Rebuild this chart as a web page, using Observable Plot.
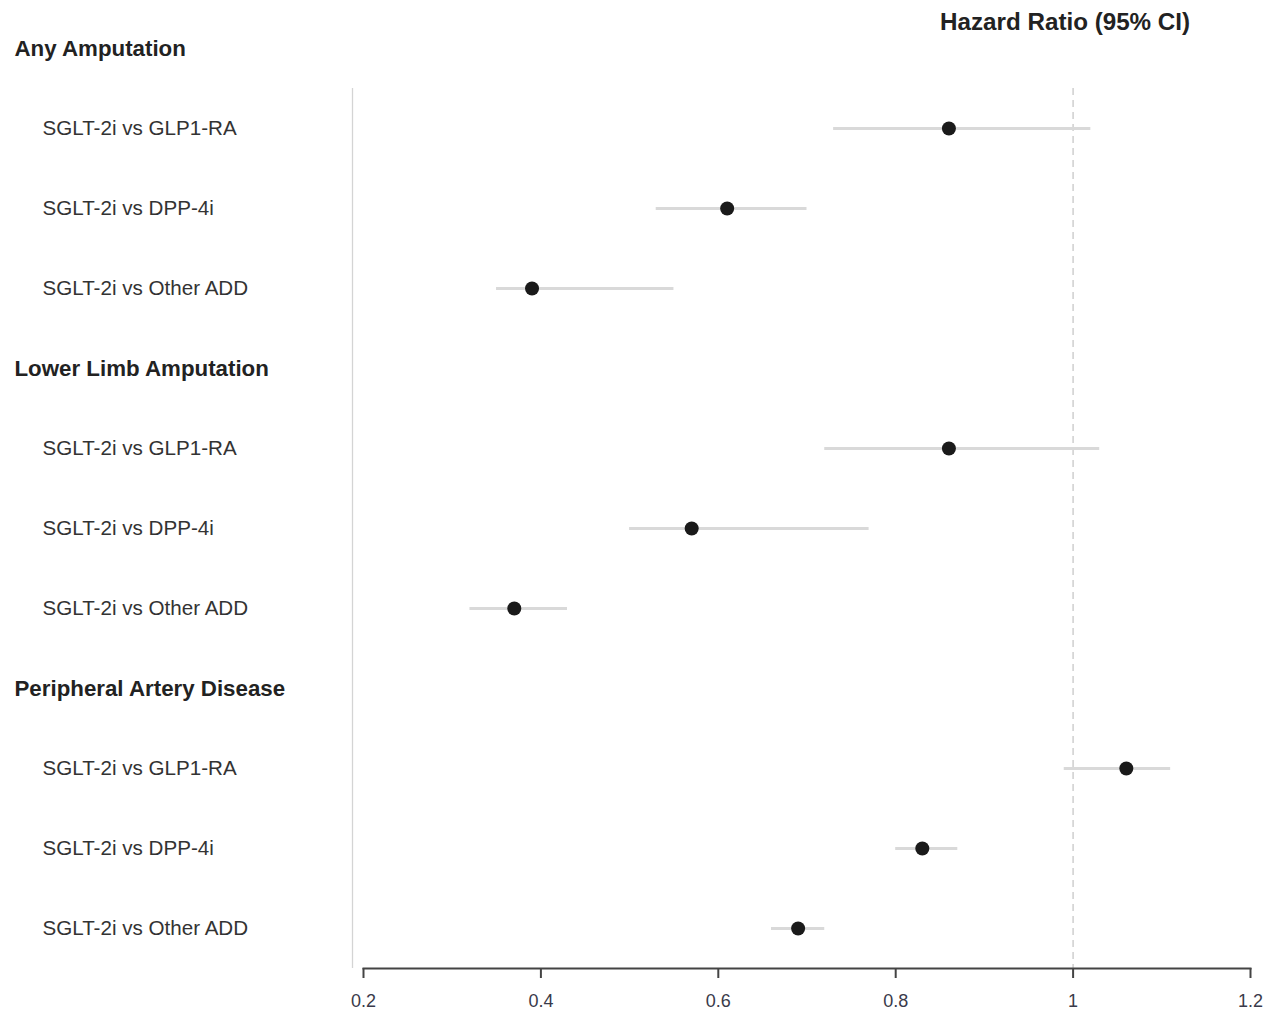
<!DOCTYPE html>
<html>
<head>
<meta charset="utf-8">
<script src="https://cdn.jsdelivr.net/npm/d3@7"></script>
<script src="https://cdn.jsdelivr.net/npm/@observablehq/plot@0.6"></script>
<style>
  html, body { margin: 0; padding: 0; background: #fff; }
</style>
</head>
<body>
<div id="chart"></div>
<script>
const groups = ["Any Amputation", "Lower Limb Amputation", "Peripheral Artery Disease"];
const comparisons = ["SGLT-2i vs GLP1-RA", "SGLT-2i vs DPP-4i", "SGLT-2i vs Other ADD"];
const hr    = [0.86, 0.61, 0.39, 0.86, 0.57, 0.37, 1.06, 0.83, 0.69];
const lower = [0.73, 0.53, 0.35, 0.72, 0.50, 0.32, 0.99, 0.80, 0.66];
const upper = [1.02, 0.70, 0.55, 1.03, 0.77, 0.43, 1.11, 0.87, 0.72];
const xTicks = [0.2, 0.4, 0.6, 0.8, 1, 1.2];
const title = "Hazard Ratio (95% CI)";

// build row table
const headers = [];
const items = [];
let row = 0;
groups.forEach((g, gi) => {
  headers.push({row, label: g});
  row++;
  comparisons.forEach((c, ci) => {
    const k = gi * comparisons.length + ci;
    items.push({row, label: c, hr: hr[k], lo: lower[k], hi: upper[k]});
    row++;
  });
});
const nRows = row;

const font = "'Liberation Sans', Arial, Helvetica, sans-serif";

const chart = Plot.plot({
  width: 1265,
  height: 1020,
  marginLeft: 363,
  marginRight: 15,
  marginTop: 8,
  marginBottom: 52,
  style: {fontFamily: font, background: "#fff", overflow: "visible"},
  x: {domain: [0.2, 1.2]},
  y: {domain: [-0.5, nRows - 0.5], reverse: true, axis: null},
  marks: [
    // left grey separator
    Plot.ruleX([0.2], {y1: 0.5, y2: nRows - 0.5, dx: -11, stroke: "#d4d4d4", strokeWidth: 1.3}),
    // reference line at 1
    Plot.ruleX([1], {y1: 0.5, y2: nRows - 0.5, stroke: "#cfcfcf", strokeWidth: 1.5, strokeDasharray: "7,5"}),
    // CI lines
    Plot.ruleY(items, {y: "row", x1: "lo", x2: "hi", stroke: "#d9d9d9", strokeWidth: 3}),
    // points
    Plot.dot(items, {x: "hr", y: "row", r: 7, fill: "#1a1a1a", stroke: "none"}),
    // axis
    Plot.frame({anchor: "bottom", stroke: "#444", strokeWidth: 2}),
    Plot.axisX({ticks: xTicks, tickFormat: d => String(d), tickSize: 10, tickPadding: 16,
                fontSize: 18, stroke: "#444", strokeWidth: 2, fill: "#3a3a4a", label: null}),
    // group headers
    Plot.text(headers, {y: "row", text: "label", frameAnchor: "left", dx: 14 - 363,
                        textAnchor: "start", fontSize: 22.3, fontWeight: "bold", fill: "#222"}),
    // comparison labels
    Plot.text(items, {y: "row", text: "label", frameAnchor: "left", dx: 42 - 363,
                      textAnchor: "start", fontSize: 20.6, fill: "#333"}),
    // title
    Plot.text([title], {x: 1, frameAnchor: "top", dy: 14, dx: -8, lineAnchor: "middle",
                        textAnchor: "middle", fontSize: 24.2, fontWeight: "bold", fill: "#222"})
  ]
});
document.getElementById("chart").appendChild(chart);
</script>
</body>
</html>
